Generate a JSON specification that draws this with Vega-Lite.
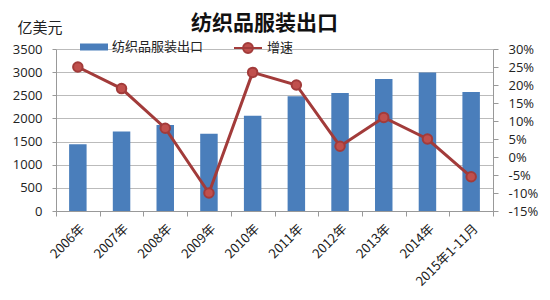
{
  "$schema": "https://vega.github.io/schema/vega-lite/v6.json",
  "width": 437,
  "height": 162,
  "autosize": {"type": "none"},
  "padding": {"left": 56, "top": 49, "right": 57, "bottom": 89},
  "background": "white",
  "title": {"text": "纺织品服装出口", "font": "Noto Sans CJK SC", "fontSize": 21, "fontWeight": "bold", "color": "#111", "anchor": "middle", "dx": -10, "dy": 35, "offset": 0, "baseline": "bottom"},
  "config": {
    "view": {"stroke": null},
    "font": "Noto Sans CJK SC",
    "axis": {"labelFont": "Open Sans", "labelFontSize": 13, "labelColor": "#222", "domainColor": "#999", "tickColor": "#999", "gridColor": "#bbb"}
  },
  "data": {"values": [
    {"year": "2006年", "export": 1440, "growth": 25, "s1": "纺织品服装出口", "s2": "增速"},
    {"year": "2007年", "export": 1720, "growth": 19, "s1": "纺织品服装出口", "s2": "增速"},
    {"year": "2008年", "export": 1860, "growth": 8, "s1": "纺织品服装出口", "s2": "增速"},
    {"year": "2009年", "export": 1670, "growth": -10, "s1": "纺织品服装出口", "s2": "增速"},
    {"year": "2010年", "export": 2060, "growth": 23.5, "s1": "纺织品服装出口", "s2": "增速"},
    {"year": "2011年", "export": 2480, "growth": 20, "s1": "纺织品服装出口", "s2": "增速"},
    {"year": "2012年", "export": 2550, "growth": 3, "s1": "纺织品服装出口", "s2": "增速"},
    {"year": "2013年", "export": 2850, "growth": 11, "s1": "纺织品服装出口", "s2": "增速"},
    {"year": "2014年", "export": 2990, "growth": 5, "s1": "纺织品服装出口", "s2": "增速"},
    {"year": "2015年1-11月", "export": 2570, "growth": -5.5, "s1": "纺织品服装出口", "s2": "增速"}
  ]},
  "encoding": {
    "x": {"field": "year", "type": "nominal", "sort": null, "scale": {"paddingInner": 0, "paddingOuter": 0},
      "axis": {"title": null, "labelAngle": -45, "labelFont": "Noto Sans CJK SC", "labelFontSize": 13, "tickBand": "extent", "tickSize": 5, "labelPadding": 6}}
  },
  "layer": [
    {
      "mark": {"type": "bar", "width": {"band": 0.4}},
      "encoding": {
        "y": {"field": "export", "type": "quantitative", "scale": {"domain": [0, 3500], "nice": false},
          "axis": {"values": [0, 500, 1000, 1500, 2000, 2500, 3000, 3500], "format": "d", "title": "亿美元", "titleAngle": 0, "titleAlign": "left", "titleBaseline": "middle", "titleX": -39, "titleY": -22, "titleFont": "Noto Sans CJK SC", "titleFontSize": 15, "titleFontWeight": "normal", "titleColor": "#222", "grid": true, "tickSize": 4, "labelPadding": 10}},
        "fill": {"field": "s1", "type": "nominal", "scale": {"range": ["#4a7ebb"]},
          "legend": {"title": null, "orient": "none", "legendX": 24, "legendY": -16, "symbolType": "M-1,-0.25H1V0.25H-1Z", "symbolSize": 784, "labelFontSize": 13, "labelFont": "Noto Sans CJK SC", "labelColor": "#222", "symbolStrokeWidth": 0}}
      }
    },
    {
      "mark": {"type": "line", "color": "#a23b3a", "strokeWidth": 3, "point": {"fill": "#c0504d", "size": 90, "filled": true}},
      "encoding": {
        "y": {"field": "growth", "type": "quantitative", "scale": {"domain": [-15, 30], "nice": false},
          "axis": {"orient": "right", "values": [-15, -10, -5, 0, 5, 10, 15, 20, 25, 30], "labelExpr": "datum.value + '%'", "title": null, "grid": false, "tickSize": 5, "labelPadding": 10}},
        "stroke": {"field": "s2", "type": "nominal", "scale": {"range": ["#a23b3a"]},
          "legend": {"title": null, "orient": "none", "legendX": 177, "legendY": -16, "symbolType": "M-1,0H1M0.35,0A0.35,0.35,0,1,1,-0.35,0A0.35,0.35,0,1,1,0.35,0", "symbolSize": 784, "symbolStrokeWidth": 2, "symbolFillColor": "#c0504d", "labelFontSize": 13, "labelFont": "Noto Sans CJK SC", "labelColor": "#222"}}
      }
    }
  ],
  "resolve": {"scale": {"y": "independent"}}
}
